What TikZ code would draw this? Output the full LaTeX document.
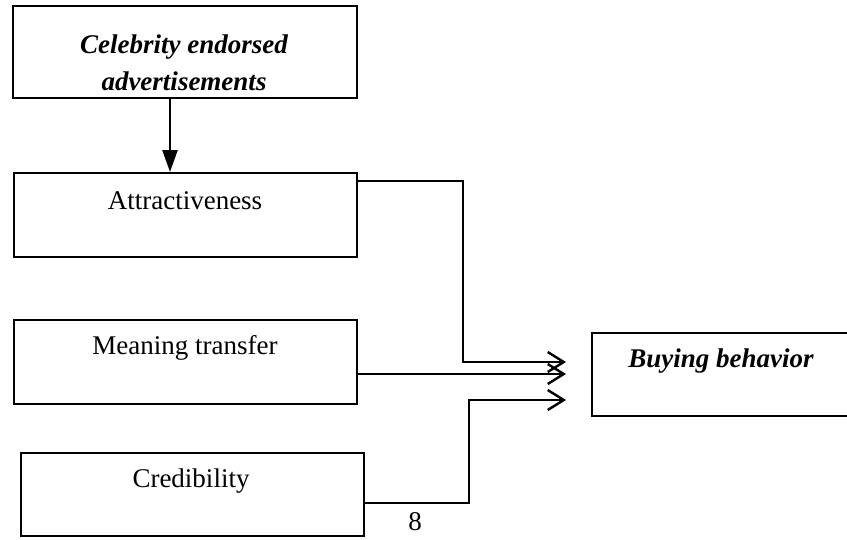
\documentclass[tikz,border=0pt]{standalone}
\usepackage{fontspec}
\setmainfont{Liberation Serif}
\usetikzlibrary{arrows.meta}
\begin{document}
\begin{tikzpicture}[x=1pt,y=-1pt,
  box/.style={draw, line width=1.8pt, inner sep=0pt, anchor=north west},
  lbl/.style={font=\fontsize{27}{37}\selectfont, inner sep=0pt, anchor=center},
  blbl/.style={font=\fontsize{27}{37}\selectfont\bfseries\itshape, inner sep=0pt, anchor=center, align=center},
  conn/.style={line width=2.4pt, -{Straight Barb[length=16pt,width=20pt,line width=2.4pt]}},
  downarr/.style={line width=2.4pt, -{Triangle[length=22pt,width=15pt]}}]
\useasboundingbox (0,0) rectangle (847,539);
\clip (0,0) rectangle (847,539);
% boxes
\node[box, minimum width=344pt, minimum height=92pt] (top) at (12,5) {};
\node[box, minimum width=343pt, minimum height=84pt] (attr) at (13,172) {};
\node[box, minimum width=343pt, minimum height=84pt] (mean) at (13,319) {};
\node[box, minimum width=343pt, minimum height=83pt] (cred) at (20,452) {};
\node[box, minimum width=262pt, minimum height=83pt] (buy) at (591,332) {};
% texts
\node[blbl] (toptxt) at (184,63) {Celebrity endorsed\\advertisements};
\node[lbl] (attrtxt) at (185,201) {Attractiveness};
\node[lbl] (meantxt) at (185,348) {Meaning transfer};
\node[lbl] (credtxt) at (191,481) {Credibility};
\node[blbl] (buytxt) at (721,361) {Buying behavior};
\node[lbl] (pg) at (415,522) {8};
% arrow ends
\coordinate (t1) at (566,362);
\coordinate (t2) at (566,374);
\coordinate (t3) at (566,400);
% connectors
\draw[downarr] (top.south -| 170,0) -- (attr.north -| 170,0);
\draw[conn] (attr.east |- 0,181) -| (463,362) -- (t1);
\draw[conn] (mean.east |- 0,374) -- (t2);
\draw[conn] (cred.east |- 0,503) -| (469,400) -- (t3);
\end{tikzpicture}
\end{document}
